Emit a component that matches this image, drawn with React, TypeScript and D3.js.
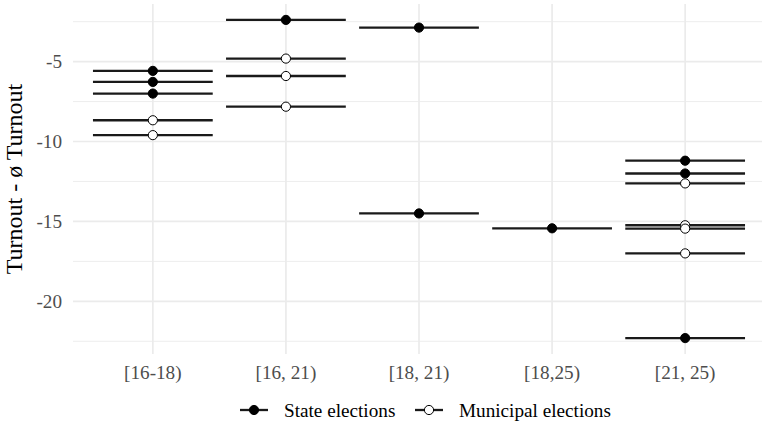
import React from "react";
import * as d3 from "d3";

const categories = ["[16-18)", "[16, 21)", "[18, 21)", "[18,25)", "[21, 25)"];

// values per category
const stateElections = [
  [-5.58, -6.27, -7.0],
  [-2.39],
  [-2.87, -14.5],
  [-15.43],
  [-11.2, -12.0, -22.3],
];
const municipalElections = [
  [-8.67, -9.6],
  [-4.81, -5.9, -7.82],
  [],
  [],
  [-12.62, -15.24, -15.45, -17.0],
];

const yTicks = [-20, -15, -10, -5];
const yMinor = [-22.5, -17.5, -12.5, -7.5, -2.5];
const seriesNames = ["State elections", "Municipal elections"];

const W = 762, H = 425;
const panel = { left: 73, right: 765, top: 4, bottom: 354 };

export default function App() {
  const all = stateElections.flat().concat(municipalElections.flat());
  const [lo, hi] = d3.extent(all) as [number, number];
  const pad = (hi - lo) * 0.05;

  const x = d3.scalePoint<string>()
    .domain(categories)
    .range([panel.left, panel.right])
    .padding(0.6);
  const y = d3.scaleLinear()
    .domain([lo - pad, hi + pad])
    .range([panel.bottom, panel.top]);
  const half = x.step() * 0.45;

  const rows: { cat: string; v: number; filled: boolean }[] = [];
  categories.forEach((c, i) => {
    stateElections[i].forEach(v => rows.push({ cat: c, v, filled: true }));
    municipalElections[i].forEach(v => rows.push({ cat: c, v, filled: false }));
  });

  const serif = "'Liberation Serif', 'Times New Roman', serif";

  return (
    <svg width={W} height={H} style={{ position: "absolute", left: 0, top: 0, background: "#fff" }}>
      {/* grid */}
      {yMinor.map(t => (
        <line key={"mi" + t} x1={panel.left} x2={panel.right} y1={y(t)} y2={y(t)} stroke="#ebebeb" strokeWidth={0.9} />
      ))}
      {yTicks.map(t => (
        <line key={"ma" + t} x1={panel.left} x2={panel.right} y1={y(t)} y2={y(t)} stroke="#ebebeb" strokeWidth={1.7} />
      ))}
      {categories.map(c => (
        <line key={"v" + c} x1={x(c)} x2={x(c)} y1={panel.top} y2={panel.bottom} stroke="#ebebeb" strokeWidth={1.7} />
      ))}

      {/* segments + points */}
      {rows.map((r, i) => (
        <line key={"s" + i} x1={x(r.cat)! - half} x2={x(r.cat)! + half} y1={y(r.v)} y2={y(r.v)} stroke="#1a1a1a" strokeWidth={2.3} />
      ))}
      {rows.map((r, i) => (
        <circle key={"p" + i} cx={x(r.cat)} cy={y(r.v)} r={4.6}
          fill={r.filled ? "#000" : "#fff"} stroke="#000" strokeWidth={1} />
      ))}

      {/* axes text */}
      {yTicks.map(t => (
        <text key={"yt" + t} x={62} y={y(t)} dy="0.35em" textAnchor="end" fontFamily={serif} fontSize={19.2} fill="#4d4d4d">{t}</text>
      ))}
      {categories.map(c => (
        <text key={"xt" + c} x={x(c)} y={379} textAnchor="middle" fontFamily={serif} fontSize={19.2} fill="#4d4d4d">{c}</text>
      ))}
      <text transform={`translate(22,${(panel.top + panel.bottom) / 2}) rotate(-90)`} textAnchor="middle" fontFamily={serif} fontSize={24} fill="#000">
        Turnout - ø Turnout
      </text>

      {/* legend */}
      {seriesNames.map((name, i) => {
        const cx = i === 0 ? 254 : 429;
        return (
          <g key={name}>
            <line x1={cx - 14} x2={cx + 14} y1={410} y2={410} stroke="#1a1a1a" strokeWidth={2.3} />
            <circle cx={cx} cy={410} r={4.6} fill={i === 0 ? "#000" : "#fff"} stroke="#000" strokeWidth={1} />
            <text x={cx + 30} y={410} dy="0.35em" fontFamily={serif} fontSize={19.2} fill="#000">{name}</text>
          </g>
        );
      })}
    </svg>
  );
}
